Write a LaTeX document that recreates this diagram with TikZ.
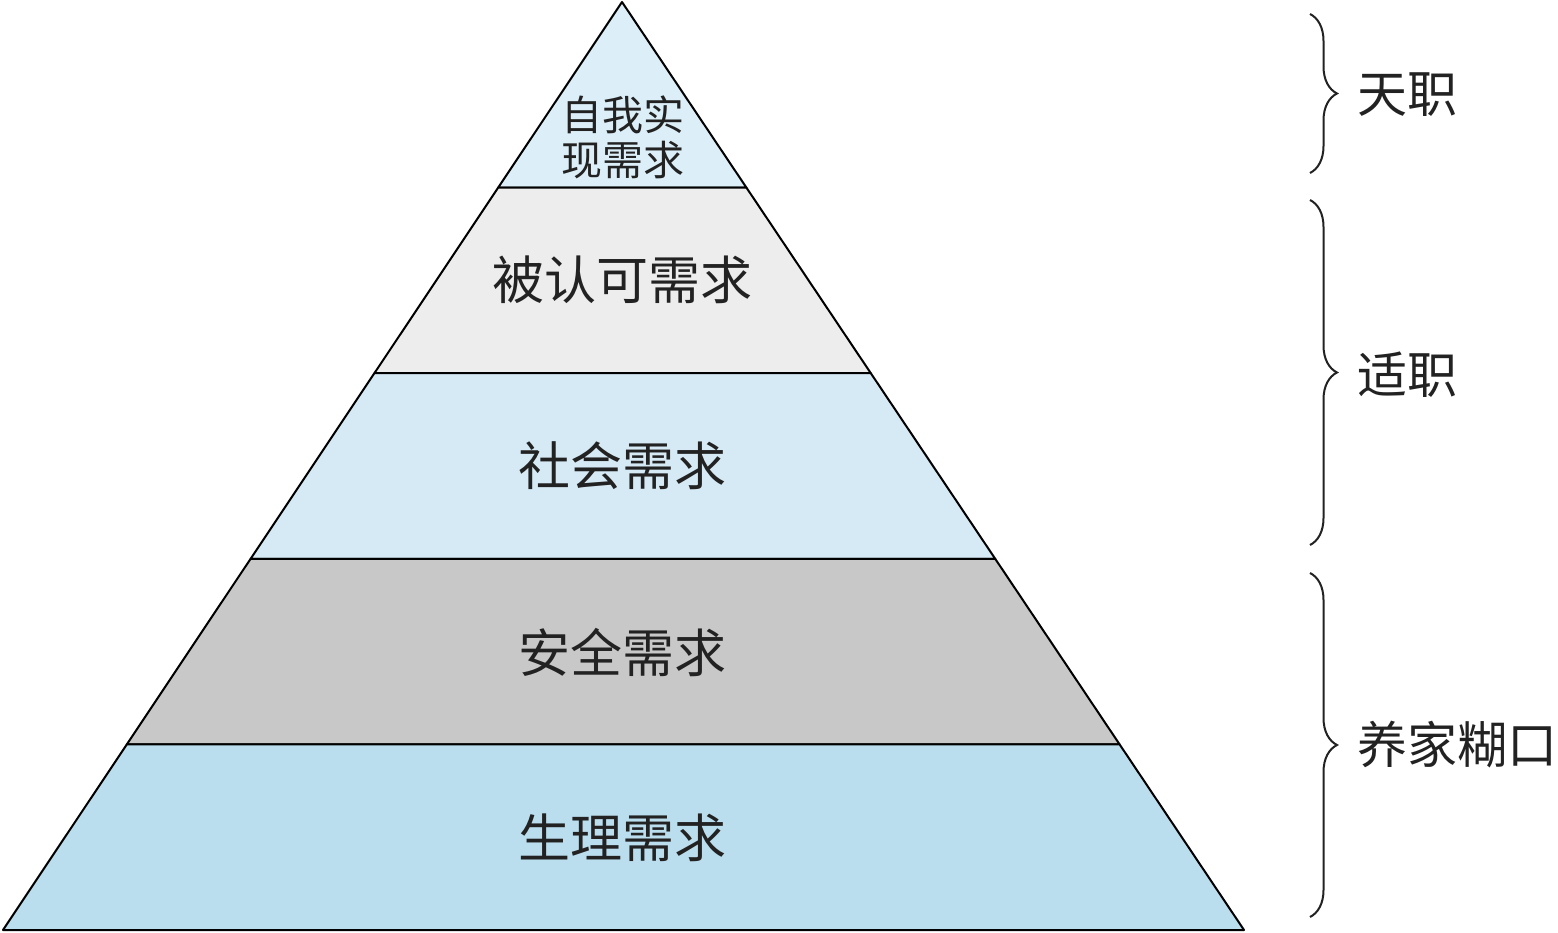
\documentclass[tikz,border=0pt]{standalone}
\usepackage{fontspec}
\newfontfamily\cjk{Noto Sans CJK SC}
\usetikzlibrary{calc,decorations.pathreplacing}
\definecolor{lvA}{HTML}{DCEEF8}
\definecolor{lvB}{HTML}{EDEDED}
\definecolor{lvC}{HTML}{D6EAF5}
\definecolor{lvD}{HTML}{C8C8C8}
\definecolor{lvE}{HTML}{BBDEEE}
\definecolor{ink}{HTML}{222222}
\tikzset{
  layer/.style={draw=black, line width=2pt, line join=round},
  lbl/.style={font=\cjk\fontsize{52}{56}\selectfont, text=ink, inner sep=0pt},
  toplbl/.style={font=\cjk\fontsize{41}{45}\selectfont, text=ink, inner sep=0pt, align=center},
  sidelbl/.style={font=\cjk\fontsize{50}{54}\selectfont, text=ink, inner sep=0pt, anchor=west},
  bracedec/.style={draw=ink, line width=2pt, decorate, decoration={brace, amplitude=27pt}}
}
\begin{document}
\begin{tikzpicture}[x=1pt,y=1pt]
\useasboundingbox (0,0) rectangle (1558,932);
\coordinate (A) at (622,930);
\coordinate (L) at (3,2);
\coordinate (R) at (1244,2);
\foreach \i/\c in {1/lvA,2/lvB,3/lvC,4/lvD,5/lvE}{
  \pgfmathsetmacro{\ta}{(\i-1)/5}
  \pgfmathsetmacro{\tb}{\i/5}
  \draw[layer, fill=\c] ($(A)!\ta!(L)$) -- ($(A)!\tb!(L)$) -- ($(A)!\tb!(R)$) -- ($(A)!\ta!(R)$) -- cycle;
}
\node[toplbl] (n1) at (623,795) {自我实\\现需求};
\node[lbl] (n2) at (622,652) {被认可需求};
\node[lbl] (n3) at (622,466) {社会需求};
\node[lbl] (n4) at (622,279) {安全需求};
\node[lbl] (n5) at (622,94) {生理需求};
\coordinate (b1t) at (1310,918);
\coordinate (b1b) at (1310,759);
\coordinate (b2t) at (1310,732);
\coordinate (b2b) at (1310,387);
\coordinate (b3t) at (1310,359);
\coordinate (b3b) at (1310,15);
\draw[bracedec] (b1t) -- (b1b);
\draw[bracedec] (b2t) -- (b2b);
\draw[bracedec] (b3t) -- (b3b);
\node[sidelbl] (s1) at (1357,837) {天职};
\node[sidelbl] (s2) at (1357,557) {适职};
\node[sidelbl] (s3) at (1357,187) {养家糊口};
\end{tikzpicture}
\end{document}
